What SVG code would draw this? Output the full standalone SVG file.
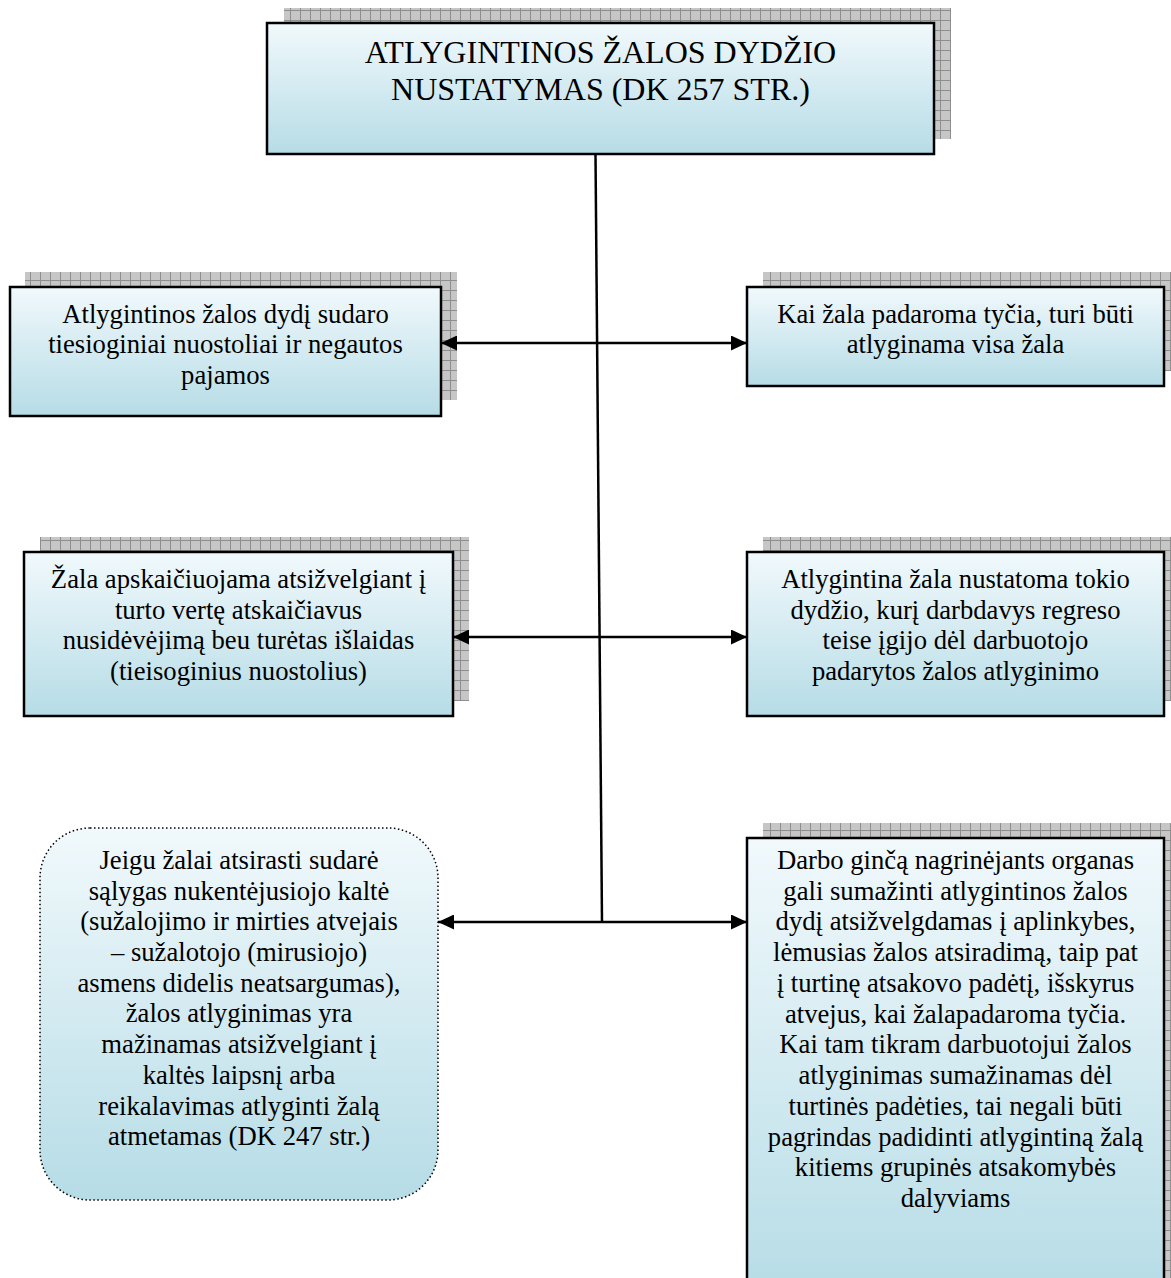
<svg xmlns="http://www.w3.org/2000/svg" width="1171" height="1278" viewBox="0 0 1171 1278">
<defs>
<linearGradient id="g" x1="0" y1="0" x2="0" y2="1">
<stop offset="0" stop-color="#f1f9fc"/>
<stop offset="1" stop-color="#b6dce6"/>
</linearGradient>
<pattern id="sh" width="10" height="10" patternUnits="userSpaceOnUse">
<rect width="10" height="10" fill="#c6c6c6"/>
<path d="M0 0.5H10M0.5 0V10" stroke="#8e8e8e" stroke-width="1"/>
</pattern>
<marker id="ah" viewBox="0 0 16 15" markerWidth="16" markerHeight="15" refX="16" refY="7.5" orient="auto-start-reverse" markerUnits="userSpaceOnUse">
<path d="M0 0L16 7.5L0 15z" fill="#000"/>
</marker>
</defs>
<style>
.box{fill:url(#g);stroke:#000;stroke-width:2.5}
.shadow{fill:url(#sh)}
text{font-family:"Liberation Serif","Times New Roman",serif;font-size:26.67px;fill:#000;text-anchor:middle}
.title{font-size:32px}
.conn{stroke:#000;stroke-width:2.5;fill:none}
</style>
<g id="node-title">
<rect class="shadow" x="284" y="8" width="667" height="131"/>
<rect class="box" x="267" y="23" width="667" height="131"/>
<text class="title" x="600.5" y="63">ATLYGINTINOS ŽALOS DYDŽIO</text>
<text class="title" x="600.5" y="100">NUSTATYMAS (DK 257 STR.)</text>
</g>
<g id="node-1">
<rect class="shadow" x="25" y="272" width="432" height="128"/>
<rect class="box" x="10" y="287" width="431" height="129"/>
<text x="225.5" y="323">Atlygintinos žalos dydį sudaro</text>
<text x="225.5" y="353">tiesioginiai nuostoliai ir negautos</text>
<text x="225.5" y="384">pajamos</text>
</g>
<g id="node-2">
<rect class="shadow" x="763" y="272" width="408" height="99"/>
<rect class="box" x="747" y="287" width="417" height="99"/>
<text x="955.5" y="323">Kai žala padaroma tyčia, turi būti</text>
<text x="955.5" y="353">atlyginama visa žala</text>
</g>
<g id="node-3">
<rect class="shadow" x="40" y="537" width="429" height="164"/>
<rect class="box" x="24" y="552" width="429" height="164"/>
<text x="238.5" y="588">Žala apskaičiuojama atsižvelgiant į</text>
<text x="238.5" y="619">turto vertę atskaičiavus</text>
<text x="238.5" y="649">nusidėvėjimą beu turėtas išlaidas</text>
<text x="238.5" y="680">(tieisoginius nuostolius)</text>
</g>
<g id="node-4">
<rect class="shadow" x="763" y="537" width="408" height="164"/>
<rect class="box" x="747" y="552" width="417" height="164"/>
<text x="955.5" y="588">Atlygintina žala nustatoma tokio</text>
<text x="955.5" y="619">dydžio, kurį darbdavys regreso</text>
<text x="955.5" y="649">teise įgijo dėl darbuotojo</text>
<text x="955.5" y="680">padarytos žalos atlyginimo</text>
</g>
<g id="node-5">
<rect x="40" y="828" width="398" height="372" rx="50" ry="50" fill="url(#g)" stroke="#000" stroke-width="1.5" stroke-dasharray="1.5 2.5"/>
<text x="239" y="869">Jeigu žalai atsirasti sudarė</text>
<text x="239" y="900">sąlygas nukentėjusiojo kaltė</text>
<text x="239" y="930">(sužalojimo ir mirties atvejais</text>
<text x="239" y="961">– sužalotojo (mirusiojo)</text>
<text x="239" y="992">asmens didelis neatsargumas),</text>
<text x="239" y="1022">žalos atlyginimas yra</text>
<text x="239" y="1053">mažinamas atsižvelgiant į</text>
<text x="239" y="1084">kaltės laipsnį arba</text>
<text x="239" y="1115">reikalavimas atlyginti žalą</text>
<text x="239" y="1145">atmetamas (DK 247 str.)</text>
</g>
<g id="node-6">
<rect class="shadow" x="763" y="823" width="408" height="480"/>
<rect class="box" x="747" y="838" width="417" height="460"/>
<text x="955.5" y="869">Darbo ginčą nagrinėjants organas</text>
<text x="955.5" y="900">gali sumažinti atlygintinos žalos</text>
<text x="955.5" y="930">dydį atsižvelgdamas į aplinkybes,</text>
<text x="955.5" y="961">lėmusias žalos atsiradimą, taip pat</text>
<text x="955.5" y="992">į turtinę atsakovo padėtį, išskyrus</text>
<text x="955.5" y="1023">atvejus, kai žalapadaroma tyčia.</text>
<text x="955.5" y="1053">Kai tam tikram darbuotojui žalos</text>
<text x="955.5" y="1084">atlyginimas sumažinamas dėl</text>
<text x="955.5" y="1115">turtinės padėties, tai negali būti</text>
<text x="955.5" y="1146">pagrindas padidinti atlygintiną žalą</text>
<text x="955.5" y="1176">kitiems grupinės atsakomybės</text>
<text x="955.5" y="1207">dalyviams</text>
</g>
<g id="connectors">
<path class="conn" d="M595.5 154L602 922"/>
<path class="conn" d="M441 343H747" marker-start="url(#ah)" marker-end="url(#ah)"/>
<path class="conn" d="M453 637H747" marker-start="url(#ah)" marker-end="url(#ah)"/>
<path class="conn" d="M438 922H747" marker-start="url(#ah)" marker-end="url(#ah)"/>
</g>
</svg>
